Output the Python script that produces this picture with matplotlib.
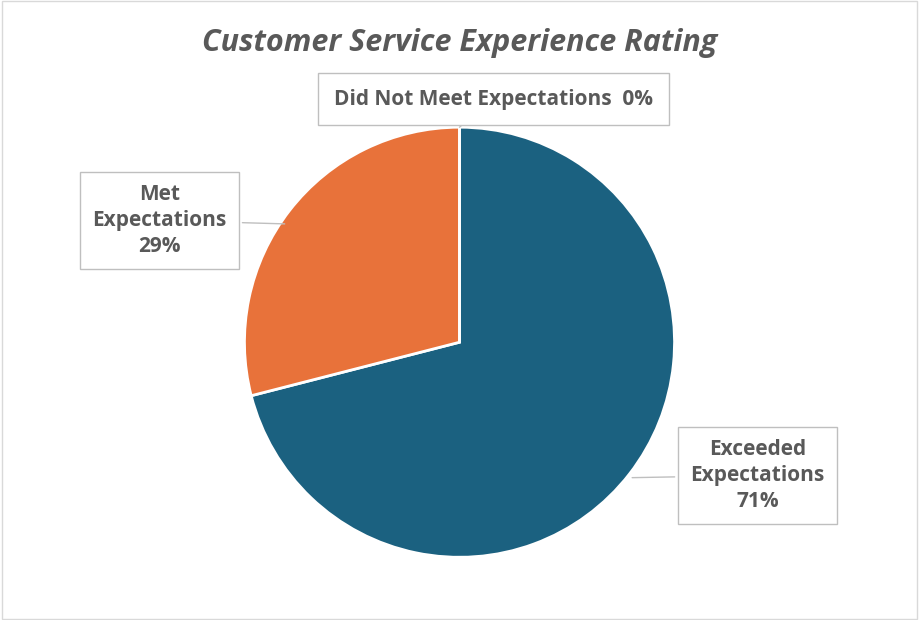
import matplotlib.pyplot as plt
from matplotlib.patches import Rectangle

labels = ["Exceeded\nExpectations\n71%", "Met\nExpectations\n29%", "Did Not Meet Expectations  0%"]
values = [71, 29, 0]
colors = ["#1B6180", "#E8723A", "#A5A5A5"]

fig = plt.figure(figsize=(9.19, 6.2), dpi=100)
fig.patches.append(Rectangle((0.002, 0.002), 0.996, 0.996, transform=fig.transFigure,
                             fill=False, edgecolor="#D9D9D9", linewidth=1))
ax = fig.add_axes([0.266, 0.101, 0.468, 0.694])
ax.pie(values, colors=colors, startangle=90, counterclock=False,
       wedgeprops=dict(edgecolor="white", linewidth=2))
ax.set_xlim(-1, 1)
ax.set_ylim(-1, 1)
ax.set_aspect("equal")

txt = dict(color="#595959", fontsize=15, fontweight="bold", family="Open Sans",
           ha="center", va="center", linespacing=1.3)
box = dict(boxstyle="square,pad=0.6", fc="white", ec="#BFBFBF", lw=1)
line = dict(arrowstyle="-", color="#BFBFBF", lw=1)

ax.annotate(labels[0], xy=(0.79, -0.63), xytext=(1.386, -0.619), bbox=box,
            arrowprops=line, annotation_clip=False, **txt)
ax.annotate(labels[1], xy=(-0.8, 0.55), xytext=(-1.395, 0.567), bbox=box,
            arrowprops=line, annotation_clip=False, **txt)
ax.annotate(labels[2], xy=(0, 1.0), xytext=(0.158, 1.13),
            bbox=dict(boxstyle="square,pad=0.75", fc="white", ec="#BFBFBF", lw=1),
            arrowprops=line, annotation_clip=False, **txt)

fig.text(0.5, 0.93, "Customer Service Experience Rating", ha="center", va="center",
         fontsize=22, fontstyle="italic", fontweight="bold", color="#595959", family="Open Sans")

fig.savefig("out.png", dpi=100)
